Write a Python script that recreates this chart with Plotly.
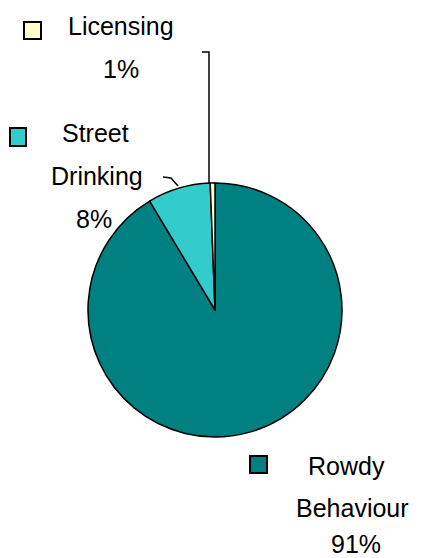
import plotly.graph_objects as go

# ---- data ----
categories = ["Rowdy Behaviour", "Street Drinking", "Licensing"]
values = [91.4, 8.0, 0.6]
colors = ["#008080", "#33CCCC", "#FFFFCC"]

# the page body has an 8px margin; the figure is drawn from (8, 8)
OFF = 8
W, H = 421 - OFF, 558 - OFF

def px(x):
    return (x - OFF) / W

def py(y):
    return 1 - (y - OFF) / H

total = sum(values)
pcts = [f"{round(v / total * 100)}%" for v in values]

fig = go.Figure()
fig.add_trace(go.Pie(
    labels=categories,
    values=values,
    sort=False,
    direction="clockwise",
    rotation=0,
    marker=dict(colors=colors, line=dict(color="black", width=1.5)),
    textinfo="none",
    hoverinfo="label+percent",
    showlegend=False,
    domain=dict(x=[px(88), px(342)], y=[py(437), py(183)]),
))

# label layout (pixel centres for each text line, legend key box)
line_pos = {
    "Rowdy Behaviour": [(346, 466), (352, 508), (356, 544)],
    "Street Drinking": [(95, 133), (97, 176), (94, 219)],
    "Licensing": [(121, 26), (121, 69)],
}
key_box = {
    "Rowdy Behaviour": (250, 456, 267, 473),
    "Street Drinking": (10, 128, 26, 146),
    "Licensing": (24, 22, 41, 39),
}

font = dict(family="Liberation Sans, Arial, sans-serif", size=25, color="black")

for cat, pct, col in zip(categories, pcts, colors):
    lines = cat.split(" ") + [pct]
    for text, (x, y) in zip(lines, line_pos[cat]):
        fig.add_annotation(x=px(x), y=py(y), xref="paper", yref="paper",
                           text=text, showarrow=False, font=font,
                           xanchor="center", yanchor="middle")
    x0, y0, x1, y1 = key_box[cat]
    fig.add_shape(type="rect", xref="paper", yref="paper",
                  x0=px(x0), x1=px(x1), y0=py(y1), y1=py(y0),
                  fillcolor=col, line=dict(color="black", width=2))

# leader lines
def path(points):
    return "M " + " L ".join(f"{px(x)},{py(y)}" for x, y in points)

fig.add_shape(type="path", xref="paper", yref="paper",
              path=path([(202, 52), (209, 52), (209, 184)]),
              line=dict(color="black", width=1.5))
fig.add_shape(type="path", xref="paper", yref="paper",
              path=path([(163, 177), (171, 178), (178, 186)]),
              line=dict(color="black", width=1.5))

fig.update_layout(
    width=W, height=H,
    margin=dict(l=0, r=0, t=0, b=0),
    paper_bgcolor="white",
    plot_bgcolor="white",
)

fig.write_html("out.html")
